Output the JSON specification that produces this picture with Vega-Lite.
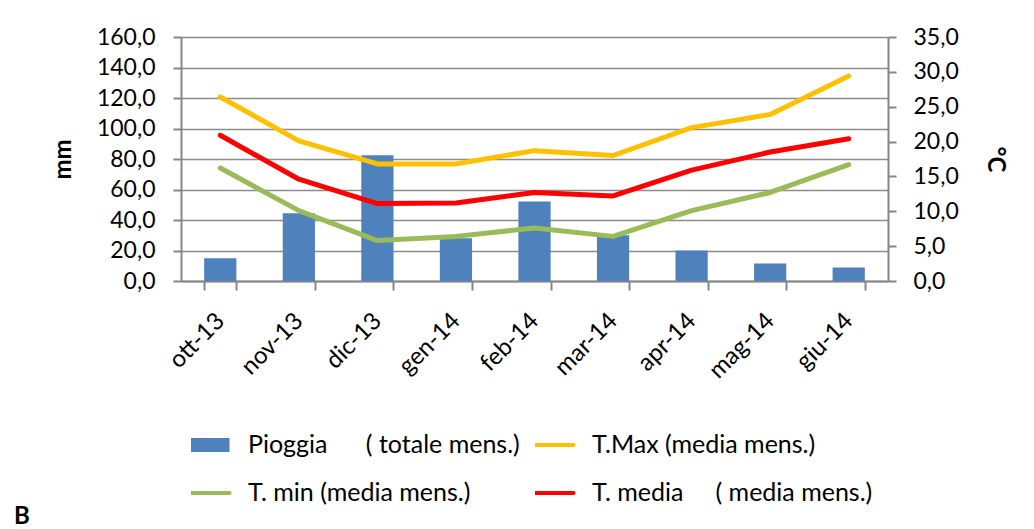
{
  "$schema": "https://vega.github.io/schema/vega-lite/v6.json",
  "width": 707,
  "height": 244,
  "autosize": {"type": "none"},
  "padding": {"left": 181, "top": 37, "right": 146, "bottom": 248},
  "background": "white",
  "title": {"text": "B", "orient": "bottom", "anchor": "start", "frame": "group", "font": "Lato", "fontSize": 24, "fontWeight": "bold", "color": "black", "dx": -167, "dy": -1, "offset": 0},
  "data": {
    "values": [
      {"mese": "ott-13", "pioggia": 15.0, "tmax": 26.4, "tmin": 16.2, "tmed": 20.9},
      {"mese": "nov-13", "pioggia": 44.5, "tmax": 20.1, "tmin": 10.1, "tmed": 14.6},
      {"mese": "dic-13", "pioggia": 82.5, "tmax": 16.8, "tmin": 5.8, "tmed": 11.1},
      {"mese": "gen-14", "pioggia": 28.0, "tmax": 16.8, "tmin": 6.4, "tmed": 11.2},
      {"mese": "feb-14", "pioggia": 52.2, "tmax": 18.7, "tmin": 7.6, "tmed": 12.7},
      {"mese": "mar-14", "pioggia": 30.0, "tmax": 18.0, "tmin": 6.4, "tmed": 12.2},
      {"mese": "apr-14", "pioggia": 20.0, "tmax": 22.0, "tmin": 10.1, "tmed": 15.9},
      {"mese": "mag-14", "pioggia": 11.4, "tmax": 23.9, "tmin": 12.7, "tmed": 18.5},
      {"mese": "giu-14", "pioggia": 8.8, "tmax": 29.4, "tmin": 16.7, "tmed": 20.4}
    ]
  },
  "encoding": {
    "x": {
      "field": "mese", "type": "nominal", "sort": null,
      "scale": {"paddingInner": 0.59, "paddingOuter": 0.295},
      "axis": {
        "title": null, "tickBand": "extent", "labelAngle": -45, "labelAlign": "right", "labelBaseline": "middle",
        "labelPadding": 27, "tickSize": 9, "labelFontSize": 24, "labelFont": "Lato", "labelColor": "black",
        "domainColor": "#868686", "domainWidth": 2, "tickColor": "#868686", "tickWidth": 2, "grid": false
      }
    }
  },
  "layer": [
    {
      "mark": {"type": "bar", "color": "#4F81BD"},
      "encoding": {
        "y": {
          "field": "pioggia", "type": "quantitative",
          "scale": {"domain": [0, 160], "nice": false},
          "axis": {
            "title": "mm", "titleFont": "Lato", "titleFontSize": 24, "titleFontWeight": "bold", "titleColor": "black",
            "titleX": -118, "titleY": 122, "titleAngle": 270, "titleAlign": "center", "titleBaseline": "middle",
            "values": [0, 20, 40, 60, 80, 100, 120, 140, 160],
            "labelExpr": "replace(format(datum.value, '.1f'), '.', ',')",
            "labelFont": "Lato", "labelFontSize": 23, "labelColor": "black", "labelPadding": 18,
            "tickSize": 8, "tickColor": "#868686", "tickWidth": 2,
            "domainColor": "#868686", "domainWidth": 2,
            "grid": true, "gridColor": "#8c8c8c", "gridWidth": 1.5
          }
        },
        "color": {
          "datum": "pioggia", "type": "nominal",
          "scale": {"domain": ["pioggia", "tmax", "tmin", "tmed"], "range": ["#4F81BD", "#FFC000", "#9BBB59", "#FF0000"]},
          "legend": {
            "title": null, "orient": "none", "legendX": 10, "legendY": 395, "direction": "horizontal", "columns": 2,
            "padding": 0, "columnPadding": 15, "rowPadding": 22, "clipHeight": 26,
            "symbolSize": 2704, "labelOffset": 32, "labelFont": "Lato", "labelFontSize": 25, "labelColor": "black", "labelLimit": 0,
            "labelExpr": "datum.value === 'pioggia' ? 'Pioggia\u00a0\u00a0\u00a0\u00a0\u00a0\u00a0( totale mens.)' : datum.value === 'tmax' ? 'T.Max (media mens.)' : datum.value === 'tmin' ? 'T. min (media mens.)' : 'T. media\u00a0\u00a0\u00a0\u00a0\u00a0( media mens.)'",
            "encode": {
              "symbols": {
                "update": {
                  "shape": {"signal": "datum.value === 'pioggia' ? 'M-1,-0.27H1V0.27H-1Z' : 'stroke'"},
                  "size": {"value": 2704},
                  "fill": {"scale": "color", "field": "value"},
                  "stroke": {"scale": "color", "field": "value"},
                  "strokeWidth": {"signal": "datum.value === 'pioggia' ? 0 : 4"},
                  "strokeCap": {"value": "round"},
                  "opacity": {"value": 1},
                  "fillOpacity": {"value": 1},
                  "strokeOpacity": {"value": 1}
                }
              }
            }
          }
        }
      }
    },
    {
      "transform": [{"fold": ["tmax", "tmin", "tmed"], "as": ["serie", "temp"]}],
      "mark": {"type": "line", "strokeWidth": 5, "strokeCap": "round", "strokeJoin": "round"},
      "encoding": {
        "y": {
          "field": "temp", "type": "quantitative",
          "scale": {"domain": [0, 35], "nice": false},
          "axis": {
            "orient": "right", "title": "°C", "titleFont": "Lato", "titleFontSize": 24, "titleFontWeight": "bold", "titleColor": "black",
            "titleX": 106, "titleY": 122, "titleAngle": 90, "titleAlign": "center", "titleBaseline": "middle",
            "values": [0, 5, 10, 15, 20, 25, 30, 35],
            "labelExpr": "replace(format(datum.value, '.1f'), '.', ',')",
            "labelFont": "Lato", "labelFontSize": 23, "labelColor": "black", "labelPadding": 17,
            "tickSize": 8, "tickColor": "#868686", "tickWidth": 2,
            "domainColor": "#868686", "domainWidth": 2, "grid": false
          }
        },
        "color": {"field": "serie", "type": "nominal", "title": null},
        "detail": {"field": "serie"}
      }
    }
  ],
  "resolve": {"scale": {"y": "independent"}},
  "config": {"view": {"stroke": null}, "font": "Lato"}
}
